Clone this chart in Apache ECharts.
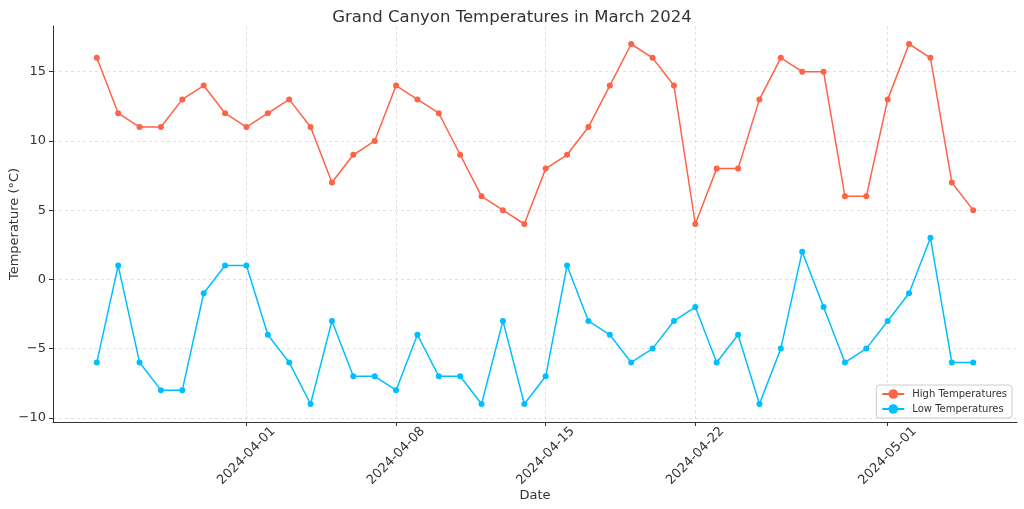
<!DOCTYPE html>
<html>
<head>
<meta charset="utf-8">
<script src="https://cdn.jsdelivr.net/npm/echarts@6/dist/echarts.min.js"></script>
<style>html,body{margin:0;padding:0;background:#fff}#c{width:1024px;height:509px}</style>
</head>
<body>
<div id="c"></div>
<script>
// Dates from 2024-03-25 to 2024-05-05 (one per day)
const startDate = '2024-03-25';
const dayCount = 42;
const highTemps = [16,12,11,11,13,14,12,11,12,13,11,7,9,10,14,13,12,9,6,5,4,8,9,11,14,17,16,14,4,8,8,13,16,15,15,6,6,13,17,16,7,5];
const lowTemps = [-6,1,-6,-8,-8,-1,1,1,-4,-6,-9,-3,-7,-7,-8,-4,-7,-7,-9,-3,-9,-7,1,-3,-4,-6,-5,-3,-2,-6,-4,-9,-5,2,-2,-6,-5,-3,-1,3,-6,-6];
const xTickDays = [7, 14, 21, 28, 37];
const xTickLabels = ['2024-04-01','2024-04-08','2024-04-15','2024-04-22','2024-05-01'];
const yTicks = [-10,-5,0,5,10,15];

const highData = highTemps.map((v,i)=>[i,v]);
const lowData = lowTemps.map((v,i)=>[i,v]);
const font = 'DejaVu Sans';

const chart = echarts.init(document.getElementById('c'), null, {renderer:'canvas'});
chart.setOption({
  animation:false,
  backgroundColor:'#fff',
  textStyle:{fontFamily:font},
  title:{text:'Grand Canyon Temperatures in March 2024', left:'center', top:4,
    textStyle:{fontFamily:font, fontSize:16.5, fontWeight:'normal', color:'#333'}},
  grid:{left:53, right:7, top:26, bottom:87, containLabel:false, outerBoundsMode:'none'},
  legend:{orient:'vertical', right:12, bottom:91, padding:[4,5,4,5], itemGap:5,
    itemWidth:22, itemHeight:12, borderColor:'#ccc', borderWidth:1, borderRadius:3,
    backgroundColor:'#fff', textStyle:{fontFamily:font, fontSize:10, color:'#333', padding:[0,0,0,3]},
    data:['High Temperatures','Low Temperatures']},
  xAxis:{type:'value', min:-2.05, max:43.05, name:'Date', nameLocation:'middle', nameGap:67,
    nameMoveOverlap:false,
    nameTextStyle:{fontFamily:font, fontSize:13, color:'#333'},
    axisLine:{show:true, onZero:false, lineStyle:{color:'#333', width:1}},
    axisTick:{show:true, length:4, customValues:xTickDays, lineStyle:{color:'#333'}},
    axisLabel:{customValues:xTickDays, rotate:45, align:'center', verticalAlign:'middle', margin:34,
      fontFamily:font, fontSize:13, color:'#333',
      formatter:(v)=>{const i=xTickDays.indexOf(Math.round(v)); return i>=0?xTickLabels[i]:'';}},
    splitLine:{show:true, lineStyle:{color:'#d8d8d8', type:[3,3], width:0.8}}},
  yAxis:{type:'value', min:-10.3, max:18.3, name:'Temperature (°C)', nameLocation:'middle', nameGap:32,
    nameMoveOverlap:false,
    nameTextStyle:{fontFamily:font, fontSize:13, color:'#333'},
    axisLine:{show:true, onZero:false, lineStyle:{color:'#333', width:1}},
    axisTick:{show:true, length:4, customValues:yTicks, lineStyle:{color:'#333'}},
    axisLabel:{customValues:yTicks, margin:7, fontFamily:font, fontSize:13, color:'#333',
      formatter:(v)=>String(Math.round(v)).replace('-','\u2212')},
    splitLine:{show:true, lineStyle:{color:'#d8d8d8', type:[3,3], width:0.8}}},
  series:[
    {name:'High Temperatures', type:'line', data:highData, symbol:'circle', symbolSize:6,
      color:'#FF6347', lineStyle:{width:1.5}},
    {name:'Low Temperatures', type:'line', data:lowData, symbol:'circle', symbolSize:6,
      color:'#00BFFF', lineStyle:{width:1.5}}
  ]
});
</script>
</body>
</html>
